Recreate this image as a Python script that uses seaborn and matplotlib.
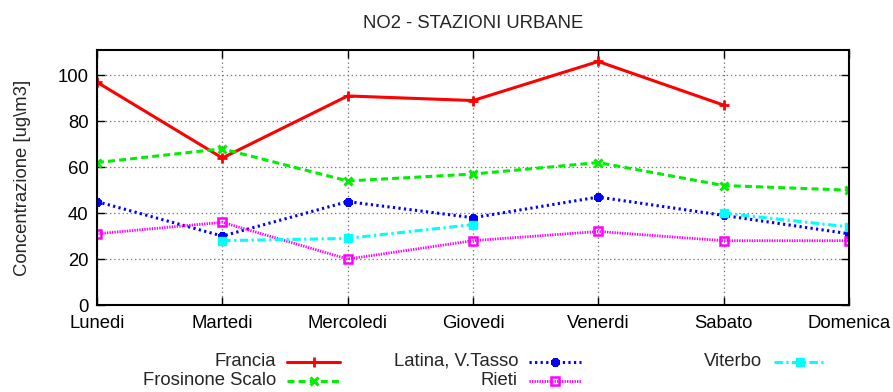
import numpy as np
import pandas as pd
import matplotlib
matplotlib.use("Agg")
import matplotlib.pyplot as plt
from matplotlib.lines import Line2D
import seaborn as sns

days = ["Lunedi", "Martedi", "Mercoledi", "Giovedi", "Venerdi", "Sabato", "Domenica"]
francia = [97, 64, 91, 89, 106, 87, np.nan]
frosinone = [62, 68, 54, 57, 62, 52, 50]
latina = [45, 30, 45, 38, 47, 39, 31]
rieti = [31, 36, 20, 28, 32, 28, 28]
viterbo = [np.nan, 28, 29, 35, np.nan, 40, 34]

series = [
    ("Francia", francia),
    ("Frosinone Scalo", frosinone),
    ("Latina, V.Tasso", latina),
    ("Rieti", rieti),
    ("Viterbo", viterbo),
]

styles = {
    "Francia": dict(color="#ff0000", lw=2.2, ls="-", marker="+", ms=7.5, mew=2.0,
                    mfc="#ff0000"),
    "Frosinone Scalo": dict(color="#00ee00", lw=2.2, ls=(0, (5, 3)), marker="x", ms=6,
                            mew=2.2, mfc="#00ee00"),
    "Latina, V.Tasso": dict(color="#0000ff", lw=2.2, ls=(0, (1.6, 2.4)), marker=(8, 2, 0),
                            ms=6, mew=3.0, mfc="#0000ff"),
    "Rieti": dict(color="#ff00ff", lw=2.0, ls=(0, (1.0, 0.8)), marker="s", ms=5.8,
                  mew=1.8, mfc="none"),
    "Viterbo": dict(color="#00ffff", lw=2.2, ls=(0, (6, 2.5, 1.6, 2.5)), marker="s",
                    ms=5.8, mew=1.0, mfc="#00ffff"),
}

sns.set_theme(style="ticks")
plt.rcParams["font.family"] = ["Liberation Sans", "DejaVu Sans"]
plt.rcParams["lines.scale_dashes"] = False

fig = plt.figure(figsize=(8.93, 3.92), dpi=100)
ax = fig.add_axes([97 / 893, 1 - 305 / 392, (849 - 97) / 893, (305 - 50) / 392])

x = np.arange(len(days))
for name, vals in series:
    st = styles[name]
    df = pd.DataFrame({"x": x, "y": vals})
    # split into contiguous runs so gaps stay open
    seg = df["y"].isna().cumsum()
    for _, part in df[df["y"].notna()].groupby(seg[df["y"].notna()]):
        sns.lineplot(data=part, x="x", y="y", ax=ax, sort=False, estimator=None,
                     color=st["color"], linewidth=st["lw"], linestyle=st["ls"],
                     marker=st["marker"], markersize=st["ms"],
                     markeredgewidth=st["mew"], markerfacecolor=st["mfc"],
                     markeredgecolor=st["color"], dash_capstyle="butt")

ax.set_xlim(0, 6)
ax.set_ylim(0, 111)
ax.set_xticks(x)
ax.set_xticklabels(days)
ax.set_yticks([0, 20, 40, 60, 80, 100])
ax.set_xlabel("")
ax.set_ylabel("Concentrazione [ug\\m3]", fontsize=13.3, labelpad=19)
ax.set_title("NO2 - STAZIONI URBANE", fontsize=13.3, pad=16)
ax.tick_params(axis="both", direction="in", length=6, width=1.0, labelsize=13.3,
               top=True, right=True, colors="black")
ax.tick_params(axis="x", pad=7)
ax.tick_params(axis="y", pad=6)
ax.grid(True, color="#777777", linestyle=(0, (1, 2)), linewidth=0.9)
for sp in ax.spines.values():
    sp.set_linewidth(1.5)
    sp.set_color("black")

# legend: right-aligned labels with a short line sample after each
entries = [
    ("Francia", 276, 361.5, 287, 340),
    ("Frosinone Scalo", 276, 380.5, 287, 340),
    ("Latina, V.Tasso", 518, 361.5, 529, 581),
    ("Rieti", 518, 380.5, 529, 581),
    ("Viterbo", 762, 361.5, 774, 826),
]
W, H = 893.0, 392.0
for name, tx, ty, lx0, lx1 in entries:
    st = styles[name]
    fig.text(tx / W, 1 - ty / H, name, ha="right", va="center", fontsize=13.3)
    yy = 1 - ty / H
    fig.add_artist(Line2D([lx0 / W, lx1 / W], [yy, yy], transform=fig.transFigure,
                          color=st["color"], lw=st["lw"], ls=st["ls"],
                          dash_capstyle="butt"))
    fig.add_artist(Line2D([(lx0 + lx1) / 2 / W], [yy], transform=fig.transFigure,
                          color=st["color"], lw=0, marker=st["marker"],
                          ms=st["ms"], mew=st["mew"], mfc=st["mfc"],
                          mec=st["color"]))

fig.savefig("out.png", dpi=100)
